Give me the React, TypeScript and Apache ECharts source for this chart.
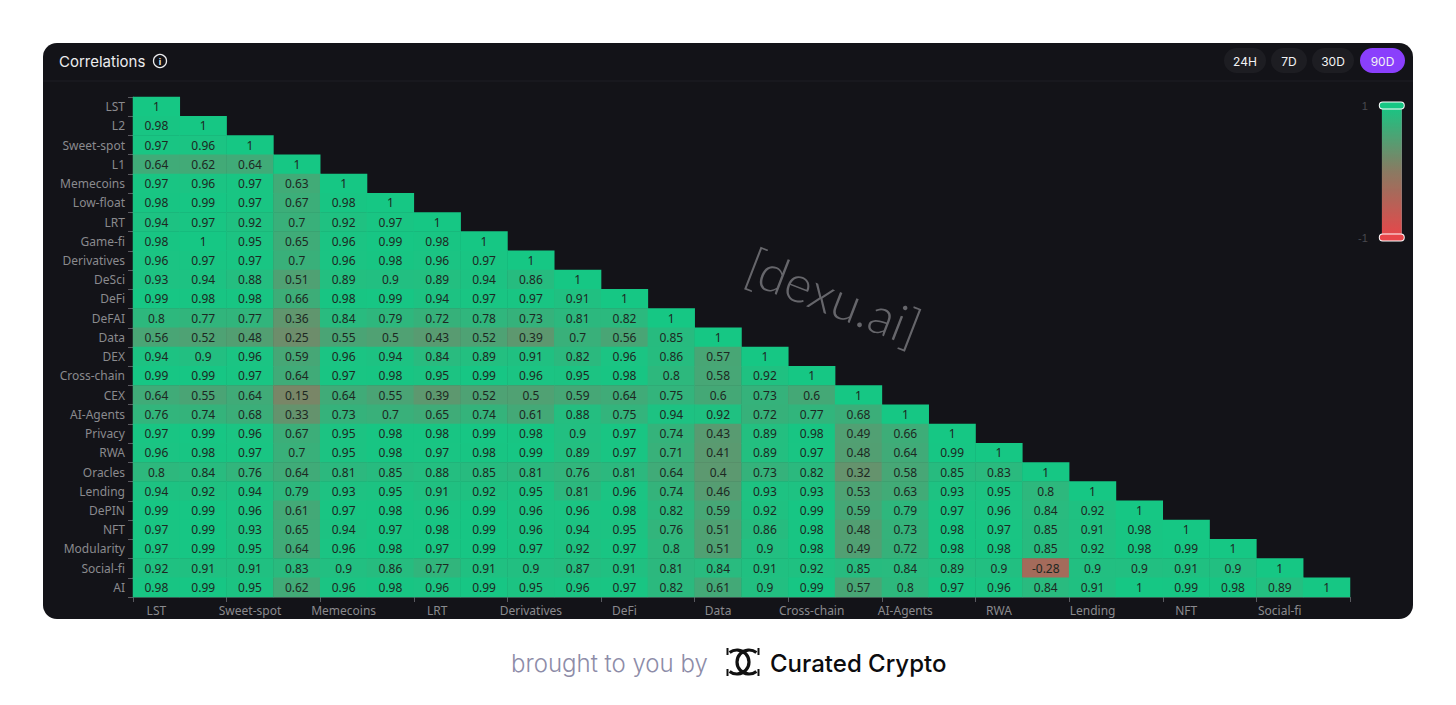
import React, { useEffect, useRef } from "react";
import * as echarts from "echarts";

const categories = [
  "LST", "L2", "Sweet-spot", "L1", "Memecoins", "Low-float", "LRT", "Game-fi",
  "Derivatives", "DeSci", "DeFi", "DeFAI", "Data", "DEX", "Cross-chain", "CEX",
  "AI-Agents", "Privacy", "RWA", "Oracles", "Lending", "DePIN", "NFT",
  "Modularity", "Social-fi", "AI",
];

const rowLST = [1];
const rowL2 = [0.98, 1];
const rowSweetSpot = [0.97, 0.96, 1];
const rowL1 = [0.64, 0.62, 0.64, 1];
const rowMemecoins = [0.97, 0.96, 0.97, 0.63, 1];
const rowLowFloat = [0.98, 0.99, 0.97, 0.67, 0.98, 1];
const rowLRT = [0.94, 0.97, 0.92, 0.7, 0.92, 0.97, 1];
const rowGameFi = [0.98, 1, 0.95, 0.65, 0.96, 0.99, 0.98, 1];
const rowDerivatives = [0.96, 0.97, 0.97, 0.7, 0.96, 0.98, 0.96, 0.97, 1];
const rowDeSci = [0.93, 0.94, 0.88, 0.51, 0.89, 0.9, 0.89, 0.94, 0.86, 1];
const rowDeFi = [0.99, 0.98, 0.98, 0.66, 0.98, 0.99, 0.94, 0.97, 0.97, 0.91, 1];
const rowDeFAI = [0.8, 0.77, 0.77, 0.36, 0.84, 0.79, 0.72, 0.78, 0.73, 0.81, 0.82, 1];
const rowData = [0.56, 0.52, 0.48, 0.25, 0.55, 0.5, 0.43, 0.52, 0.39, 0.7, 0.56, 0.85, 1];
const rowDEX = [0.94, 0.9, 0.96, 0.59, 0.96, 0.94, 0.84, 0.89, 0.91, 0.82, 0.96, 0.86, 0.57, 1];
const rowCrossChain = [0.99, 0.99, 0.97, 0.64, 0.97, 0.98, 0.95, 0.99, 0.96, 0.95, 0.98, 0.8, 0.58, 0.92, 1];
const rowCEX = [0.64, 0.55, 0.64, 0.15, 0.64, 0.55, 0.39, 0.52, 0.5, 0.59, 0.64, 0.75, 0.6, 0.73, 0.6, 1];
const rowAIAgents = [0.76, 0.74, 0.68, 0.33, 0.73, 0.7, 0.65, 0.74, 0.61, 0.88, 0.75, 0.94, 0.92, 0.72, 0.77, 0.68, 1];
const rowPrivacy = [0.97, 0.99, 0.96, 0.67, 0.95, 0.98, 0.98, 0.99, 0.98, 0.9, 0.97, 0.74, 0.43, 0.89, 0.98, 0.49, 0.66, 1];
const rowRWA = [0.96, 0.98, 0.97, 0.7, 0.95, 0.98, 0.97, 0.98, 0.99, 0.89, 0.97, 0.71, 0.41, 0.89, 0.97, 0.48, 0.64, 0.99, 1];
const rowOracles = [0.8, 0.84, 0.76, 0.64, 0.81, 0.85, 0.88, 0.85, 0.81, 0.76, 0.81, 0.64, 0.4, 0.73, 0.82, 0.32, 0.58, 0.85, 0.83, 1];
const rowLending = [0.94, 0.92, 0.94, 0.79, 0.93, 0.95, 0.91, 0.92, 0.95, 0.81, 0.96, 0.74, 0.46, 0.93, 0.93, 0.53, 0.63, 0.93, 0.95, 0.8, 1];
const rowDePIN = [0.99, 0.99, 0.96, 0.61, 0.97, 0.98, 0.96, 0.99, 0.96, 0.96, 0.98, 0.82, 0.59, 0.92, 0.99, 0.59, 0.79, 0.97, 0.96, 0.84, 0.92, 1];
const rowNFT = [0.97, 0.99, 0.93, 0.65, 0.94, 0.97, 0.98, 0.99, 0.96, 0.94, 0.95, 0.76, 0.51, 0.86, 0.98, 0.48, 0.73, 0.98, 0.97, 0.85, 0.91, 0.98, 1];
const rowModularity = [0.97, 0.99, 0.95, 0.64, 0.96, 0.98, 0.97, 0.99, 0.97, 0.92, 0.97, 0.8, 0.51, 0.9, 0.98, 0.49, 0.72, 0.98, 0.98, 0.85, 0.92, 0.98, 0.99, 1];
const rowSocialFi = [0.92, 0.91, 0.91, 0.83, 0.9, 0.86, 0.77, 0.91, 0.9, 0.87, 0.91, 0.81, 0.84, 0.91, 0.92, 0.85, 0.84, 0.89, 0.9, -0.28, 0.9, 0.9, 0.91, 0.9, 1];
const rowAI = [0.98, 0.99, 0.95, 0.62, 0.96, 0.98, 0.96, 0.99, 0.95, 0.96, 0.97, 0.82, 0.61, 0.9, 0.99, 0.57, 0.8, 0.97, 0.96, 0.84, 0.91, 1, 0.99, 0.98, 0.89, 1];

const rows = [
  rowLST, rowL2, rowSweetSpot, rowL1, rowMemecoins, rowLowFloat, rowLRT, rowGameFi,
  rowDerivatives, rowDeSci, rowDeFi, rowDeFAI, rowData, rowDEX, rowCrossChain, rowCEX,
  rowAIAgents, rowPrivacy, rowRWA, rowOracles, rowLending, rowDePIN, rowNFT,
  rowModularity, rowSocialFi, rowAI,
];

const periodButtons = ["24H", "7D", "30D", "90D"];
const activePeriod = "90D";

export default function App() {
  const ref = useRef<HTMLDivElement>(null);

  useEffect(() => {
    if (!ref.current) return;
    const chart = echarts.init(ref.current, null, { renderer: "svg" });

    const data: [number, number, number][] = [];
    rows.forEach((row, y) => row.forEach((v, x) => data.push([x, y, v])));

    const btnPos = [
      { x: 1224, w: 42 },
      { x: 1271, w: 36 },
      { x: 1312, w: 42 },
      { x: 1360, w: 45 },
    ];
    const buttons: any[] = [];
    periodButtons.forEach((label, i) => {
      const active = label === activePeriod;
      buttons.push({
        type: "rect",
        shape: { x: btnPos[i].x, y: 48, width: btnPos[i].w, height: 25, r: 12.5 },
        style: { fill: active ? "#8a3ffc" : "#1d1d22" },
      });
      buttons.push({
        type: "text",
        x: btnPos[i].x + btnPos[i].w / 2,
        y: 61,
        style: {
          text: label,
          fill: "#f2f2f4",
          font: "12px Inter",
          align: "center",
          verticalAlign: "middle",
        },
      });
    });

    const option: any = {
      animation: false,
      backgroundColor: "#ffffff",
      grid: { left: 133, top: 97, width: 1217, height: 500 },
      xAxis: {
        type: "category",
        data: categories,
        axisLine: { show: true, lineStyle: { color: "#3c3c42" } },
        axisTick: { show: true, lineStyle: { color: "#5a5a60" } },
        axisLabel: { color: "#8a8a8e", fontSize: 12, fontFamily: "Noto Sans", interval: 1, margin: 7 },
        splitArea: { show: false },
      },
      yAxis: {
        type: "category",
        data: categories,
        inverse: true,
        axisLine: { show: true, lineStyle: { color: "#3c3c42" } },
        axisTick: { show: true, lineStyle: { color: "#5a5a60" } },
        axisLabel: { color: "#8a8a8e", fontSize: 12, fontFamily: "Noto Sans", interval: 0, margin: 8 },
        splitArea: { show: false },
      },
      visualMap: {
        type: "continuous",
        min: -1,
        max: 1,
        calculable: true,
        orient: "vertical",
        left: 1343,
        top: 85,
        itemWidth: 20,
        itemHeight: 132,
        precision: 0,
        textStyle: { color: "#48484e", fontSize: 11 },
        inRange: { color: ["#e8464a", "#8a7a62", "#16c784"] },
      },
      graphic: [
        {
          type: "rect",
          z: -10,
          shape: { x: 43, y: 43, width: 1370, height: 576, r: 14 },
          style: { fill: "#131318" },
        },
        {
          type: "line",
          z: -9,
          shape: { x1: 43, y1: 81, x2: 1413, y2: 81 },
          style: { stroke: "#1f1f25", lineWidth: 1 },
        },
        {
          type: "text",
          x: 59,
          y: 61,
          style: { text: "Correlations", fill: "#ececee", font: "15px Inter", verticalAlign: "middle" },
        },
        {
          type: "circle",
          shape: { cx: 160, cy: 61, r: 6.5 },
          style: { fill: "none", stroke: "#ececee", lineWidth: 1.3 },
        },
        {
          type: "text",
          x: 160,
          y: 61.5,
          style: { text: "i", fill: "#ececee", font: "bold 9px Inter", align: "center", verticalAlign: "middle" },
        },
        ...buttons,
        {
          type: "text",
          x: 834,
          y: 296,
          rotation: -0.37,
          style: {
            text: "[dexu.ai]",
            fill: "#66666b",
            font: "300 51px Lato",
            align: "center",
            verticalAlign: "middle",
          },
        },
        {
          type: "text",
          x: 511,
          y: 663,
          style: { text: "brought to you by", fill: "#8d8ca8", font: "300 24px Inter", verticalAlign: "middle" },
        },
        {
          type: "arc",
          shape: { cx: 737, cy: 662, r: 12, startAngle: (-128 * Math.PI) / 180, endAngle: (128 * Math.PI) / 180, clockwise: true },
          style: { stroke: "#111", lineWidth: 3.2, fill: "none" },
        },
        {
          type: "arc",
          shape: { cx: 749, cy: 662, r: 12, startAngle: (52 * Math.PI) / 180, endAngle: (308 * Math.PI) / 180, clockwise: true },
          style: { stroke: "#111", lineWidth: 3.2, fill: "none" },
        },
        { type: "line", shape: { x1: 727.5, y1: 648, x2: 727.5, y2: 655 }, style: { stroke: "#111", lineWidth: 2 } },
        { type: "line", shape: { x1: 727.5, y1: 669, x2: 727.5, y2: 676 }, style: { stroke: "#111", lineWidth: 2 } },
        { type: "line", shape: { x1: 758.5, y1: 648, x2: 758.5, y2: 655 }, style: { stroke: "#111", lineWidth: 2 } },
        { type: "line", shape: { x1: 758.5, y1: 669, x2: 758.5, y2: 676 }, style: { stroke: "#111", lineWidth: 2 } },
        {
          type: "text",
          x: 770,
          y: 663,
          style: { text: "Curated Crypto", fill: "#0c0c0e", font: "500 24px Inter", verticalAlign: "middle" },
        },
      ],
      series: [
        {
          type: "heatmap",
          data,
          label: {
            show: true,
            color: "#1d2822",
            fontSize: 12,
            fontFamily: "Noto Sans",
            formatter: (p: any) => String(p.value[2]),
          },
          itemStyle: { borderWidth: 0 },
          emphasis: { disabled: true },
        },
      ],
    };

    chart.setOption(option);
    return () => chart.dispose();
  }, []);

  return (
    <div
      ref={ref}
      style={{ position: "absolute", left: 0, top: 0, width: 1456, height: 705 }}
    />
  );
}
